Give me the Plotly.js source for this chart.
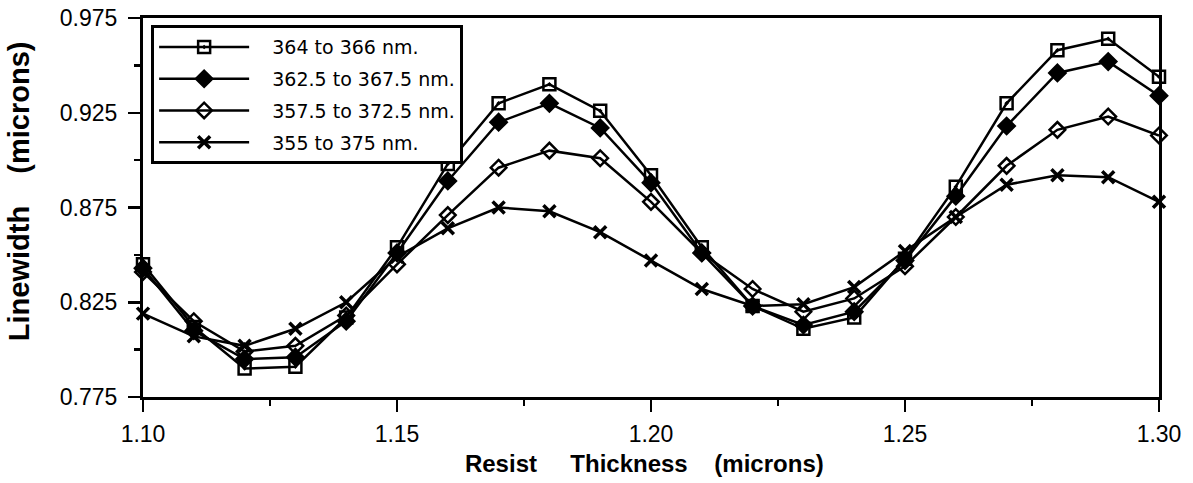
<!DOCTYPE html>
<html>
<head>
<meta charset="utf-8">
<script src="https://cdn.plot.ly/plotly-3.0.1.min.js"></script>
<style>html,body{margin:0;padding:0;background:#fff;}#chart{width:1193px;height:483px;}</style>
</head>
<body>
<div id="chart"></div>
<script>
var thickness = [1.10, 1.11, 1.12, 1.13, 1.14, 1.15, 1.16, 1.17, 1.18, 1.19, 1.20, 1.21, 1.22, 1.23, 1.24, 1.25, 1.26, 1.27, 1.28, 1.29, 1.30];

var names = ["364 to 366 nm.", "362.5 to 367.5 nm.", "357.5 to 372.5 nm.", "355 to 375 nm."];

var bw2 = [0.845, 0.812, 0.790, 0.791, 0.817, 0.854, 0.898, 0.930, 0.940, 0.926, 0.892, 0.854, 0.823, 0.811, 0.817, 0.848, 0.886, 0.930, 0.958, 0.964, 0.944];
var bw5 = [0.843, 0.810, 0.795, 0.796, 0.815, 0.851, 0.889, 0.920, 0.930, 0.917, 0.888, 0.851, 0.823, 0.813, 0.820, 0.847, 0.881, 0.918, 0.946, 0.952, 0.934];
var bw15 = [0.841, 0.815, 0.799, 0.802, 0.818, 0.845, 0.871, 0.896, 0.905, 0.901, 0.878, 0.851, 0.832, 0.820, 0.827, 0.844, 0.870, 0.897, 0.916, 0.923, 0.913];
var bw20 = [0.819, 0.807, 0.802, 0.811, 0.825, 0.849, 0.864, 0.875, 0.873, 0.862, 0.847, 0.832, 0.823, 0.824, 0.833, 0.852, 0.870, 0.887, 0.892, 0.891, 0.878];

var series = [bw2, bw5, bw15, bw20];
var symbols = ["square-open-dot", "diamond", "diamond-open", "x-thin"];
var sizes = [12, 13, 12, 12];
var lineWidths = [2.5, 2, 2.5, 3.5];

var NB = "\u00A0", ZW = "\u200B";
function pad(n) { return new Array(n + 1).join(NB); }

var traces = series.map(function (ys, i) {
  return {
    x: thickness,
    y: ys,
    name: ZW + pad(3) + names[i],
    type: "scatter",
    mode: "lines+markers",
    cliponaxis: false,
    legendgroup: "g" + i,
    line: { color: "#000", width: 2.5 },
    marker: {
      symbol: symbols[i],
      size: sizes[i],
      color: "#000",
      line: { color: "#000", width: lineWidths[i] }
    }
  };
});

var layout = {
  width: 1193,
  height: 483,
  margin: { l: 143, r: 34, t: 18, b: 86 },
  paper_bgcolor: "#fff",
  plot_bgcolor: "#fff",
  font: { family: "Liberation Sans, Arial, sans-serif", color: "#000", size: 23 },
  showlegend: true,
  legend: {
    x: 0.008, y: 0.981, xanchor: "left", yanchor: "top",
    bgcolor: "#fff", bordercolor: "#000", borderwidth: 3,
    font: { family: "DejaVu Sans, sans-serif", size: 19, color: "#000" },
    itemwidth: 90,
    tracegroupgap: 4,
    traceorder: "grouped"
  },
  xaxis: {
    range: [1.10, 1.30],
    tick0: 1.10, dtick: 0.05, tickformat: ".2f",
    ticks: "outside", ticklen: 12, tickwidth: 2.5, tickcolor: "#000",
    minor: { dtick: 0.025, ticks: "outside", ticklen: 6, tickwidth: 2.5, tickcolor: "#000" },
    showline: true, linecolor: "#000", linewidth: 3, mirror: true,
    showgrid: false, zeroline: false,
    ticklabelstandoff: 2,
    tickfont: { size: 23 },
    title: { text: "Resist" + pad(5) + "Thickness" + pad(4) + "(microns)" + pad(2) + ZW, font: { size: 24, weight: "bold" }, standoff: 10 }
  },
  yaxis: {
    range: [0.775, 0.975],
    tick0: 0.775, dtick: 0.05, tickformat: ".3f",
    ticks: "outside", ticklen: 12, tickwidth: 2.5, tickcolor: "#000",
    minor: { dtick: 0.025, ticks: "outside", ticklen: 6, tickwidth: 2.5, tickcolor: "#000" },
    showline: true, linecolor: "#000", linewidth: 3, mirror: true,
    showgrid: false, zeroline: false,
    ticklabelstandoff: 6,
    tickfont: { size: 23 },
    title: { text: ZW + pad(4) + "Linewidth" + pad(4) + "(microns)", font: { size: 29, weight: "bold" }, standoff: 22 }
  }
};

Plotly.newPlot("chart", traces, layout, { displayModeBar: false, staticPlot: true });
</script>
</body>
</html>
